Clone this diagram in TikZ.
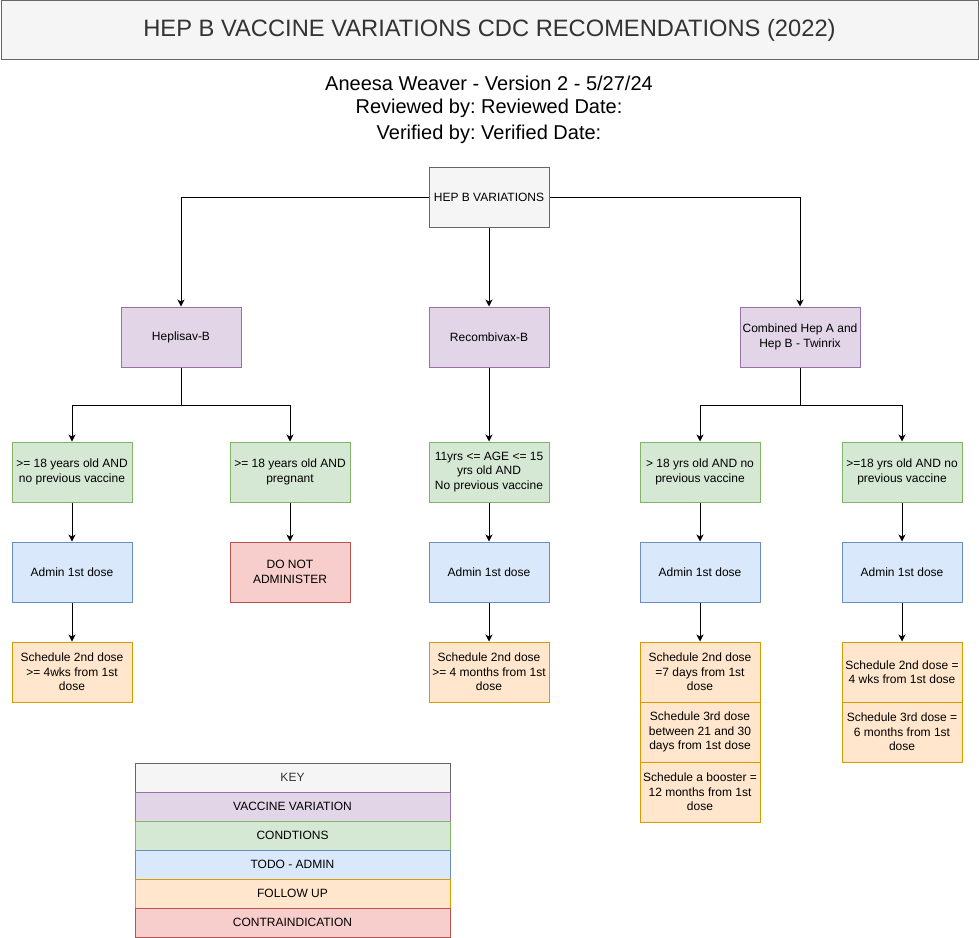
\documentclass[tikz,border=0pt]{standalone}
\usepackage{fontspec}
\setmainfont{Liberation Sans}
\frenchspacing
\usetikzlibrary{arrows.meta}

\definecolor{grayfill}{HTML}{F5F5F5}
\definecolor{grayline}{HTML}{666666}
\definecolor{graytext}{HTML}{333333}
\definecolor{vacfill}{HTML}{E1D5E7}
\definecolor{vacline}{HTML}{9673A6}
\definecolor{condfill}{HTML}{D5E8D4}
\definecolor{condline}{HTML}{82B366}
\definecolor{adminfill}{HTML}{DAE8FC}
\definecolor{adminline}{HTML}{6C8EBF}
\definecolor{followfill}{HTML}{FFE6CC}
\definecolor{followline}{HTML}{D79B00}
\definecolor{contrafill}{HTML}{F8CECC}
\definecolor{contraline}{HTML}{B85450}

\tikzset{
  box/.style={draw, align=center, minimum width=120pt, minimum height=60pt, inner sep=1pt},
  plain/.style={box, fill=grayfill, draw=grayline, text=graytext},
  vaccine/.style={box, fill=vacfill, draw=vacline},
  cond/.style={box, fill=condfill, draw=condline},
  admin/.style={box, fill=adminfill, draw=adminline},
  follow/.style={box, fill=followfill, draw=followline},
  contra/.style={box, fill=contrafill, draw=contraline},
  keyrow/.style={draw, minimum width=315pt, minimum height=29pt, inner sep=0pt}
}

\begin{document}
\begin{tikzpicture}[x=1pt, y=-1pt, line width=1pt, font=\fontsize{12}{14.4}\selectfont,
  >={Stealth[length=7pt, width=7pt, inset=2pt]}]
\useasboundingbox (0,0) rectangle (979,937);

\node (title) [plain, minimum width=977pt, minimum height=59pt, font=\fontsize{23.7}{28}\selectfont] at (489.5,30) {HEP B VACCINE VARIATIONS CDC RECOMENDATIONS (2022)};
\node (author) [align=center, font=\fontsize{20}{23}\selectfont] at (489,110) {Aneesa Weaver - Version 2 - 5/27/24 \\ Reviewed by: Reviewed Date: \\[3pt] Verified by: Verified Date:};

\node (root) [plain, text=black] at (489,197) {HEP B VARIATIONS};

\node (hep) [vaccine] at (181,337) {Heplisav-B};
\node (rec) [vaccine] at (489,337) {Recombivax-B};
\node (twin) [vaccine] at (800,337) {Combined Hep A and \\ Hep B - Twinrix};

\node (c1) [cond] at (72,472) {>= 18 years old AND \\ no previous vaccine};
\node (c2) [cond] at (290,472) {>= 18 years old AND \\ pregnant};
\node (c3) [cond] at (489,472) {11yrs <= AGE <= 15 \\ yrs old AND \\ No previous vaccine};
\node (c4) [cond] at (700,472) {> 18 yrs old AND no \\ previous vaccine};
\node (c5) [cond] at (902,472) {>=18 yrs old AND no \\ previous vaccine};

\node (a1) [admin] at (72,572) {Admin 1st dose};
\node (x2) [contra] at (290,572) {DO NOT \\ ADMINISTER};
\node (a3) [admin] at (489,572) {Admin 1st dose};
\node (a4) [admin] at (700,572) {Admin 1st dose};
\node (a5) [admin] at (902,572) {Admin 1st dose};

\node (f1) [follow] at (72,672) {Schedule 2nd dose \\ >= 4wks from 1st \\ dose};
\node (f3) [follow] at (489,672) {Schedule 2nd dose \\ >= 4 months from 1st \\ dose};
\node (f4a) [follow] at (700,672) {Schedule 2nd dose \\ =7 days from 1st \\ dose};
\node (f4b) [follow] at (700,732) {Schedule 3rd dose \\ between 21 and 30 \\ days from 1st dose};
\node (f4c) [follow] at (700,792) {Schedule a booster = \\ 12 months from 1st \\ dose};
\node (f5a) [follow] at (902,672) {Schedule 2nd dose = \\ 4 wks from 1st dose};
\node (f5b) [follow] at (902,732) {Schedule 3rd dose = \\ 6 months from 1st \\ dose};

\coordinate (hepsplit) at (181,405);
\coordinate (twinsplit) at (800,405);

\draw [->](root) -| (hep);
\draw [->](root) -- (rec);
\draw [->](root) -| (twin);

\draw [->](hep) -- (hepsplit) -| (c1);
\draw [->](hepsplit) -| (c2);
\draw [->](rec) -- (c3);
\draw [->](twin) -- (twinsplit) -| (c4);
\draw [->](twinsplit) -| (c5);

\draw [->](c1) -- (a1);
\draw [->](c2) -- (x2);
\draw [->](c3) -- (a3);
\draw [->](c4) -- (a4);
\draw [->](c5) -- (a5);

\draw [->](a1) -- (f1);
\draw [->](a3) -- (f3);
\draw [->](a4) -- (f4a);
\draw [->](a5) -- (f5a);

\node (key) [keyrow, fill=grayfill, draw=grayline, text=graytext] at (292.5,777.5) {KEY};
\node (kvac) [keyrow, fill=vacfill, draw=vacline] at (292.5,806.5) {VACCINE VARIATION};
\node (kcond) [keyrow, fill=condfill, draw=condline] at (292.5,835.5) {CONDTIONS};
\node (kadmin) [keyrow, fill=adminfill, draw=adminline] at (292.5,864.5) {TODO - ADMIN};
\node (kfollow) [keyrow, fill=followfill, draw=followline] at (292.5,893.5) {FOLLOW UP};
\node (kcontra) [keyrow, fill=contrafill, draw=contraline] at (292.5,922.5) {CONTRAINDICATION};
\end{tikzpicture}
\end{document}
